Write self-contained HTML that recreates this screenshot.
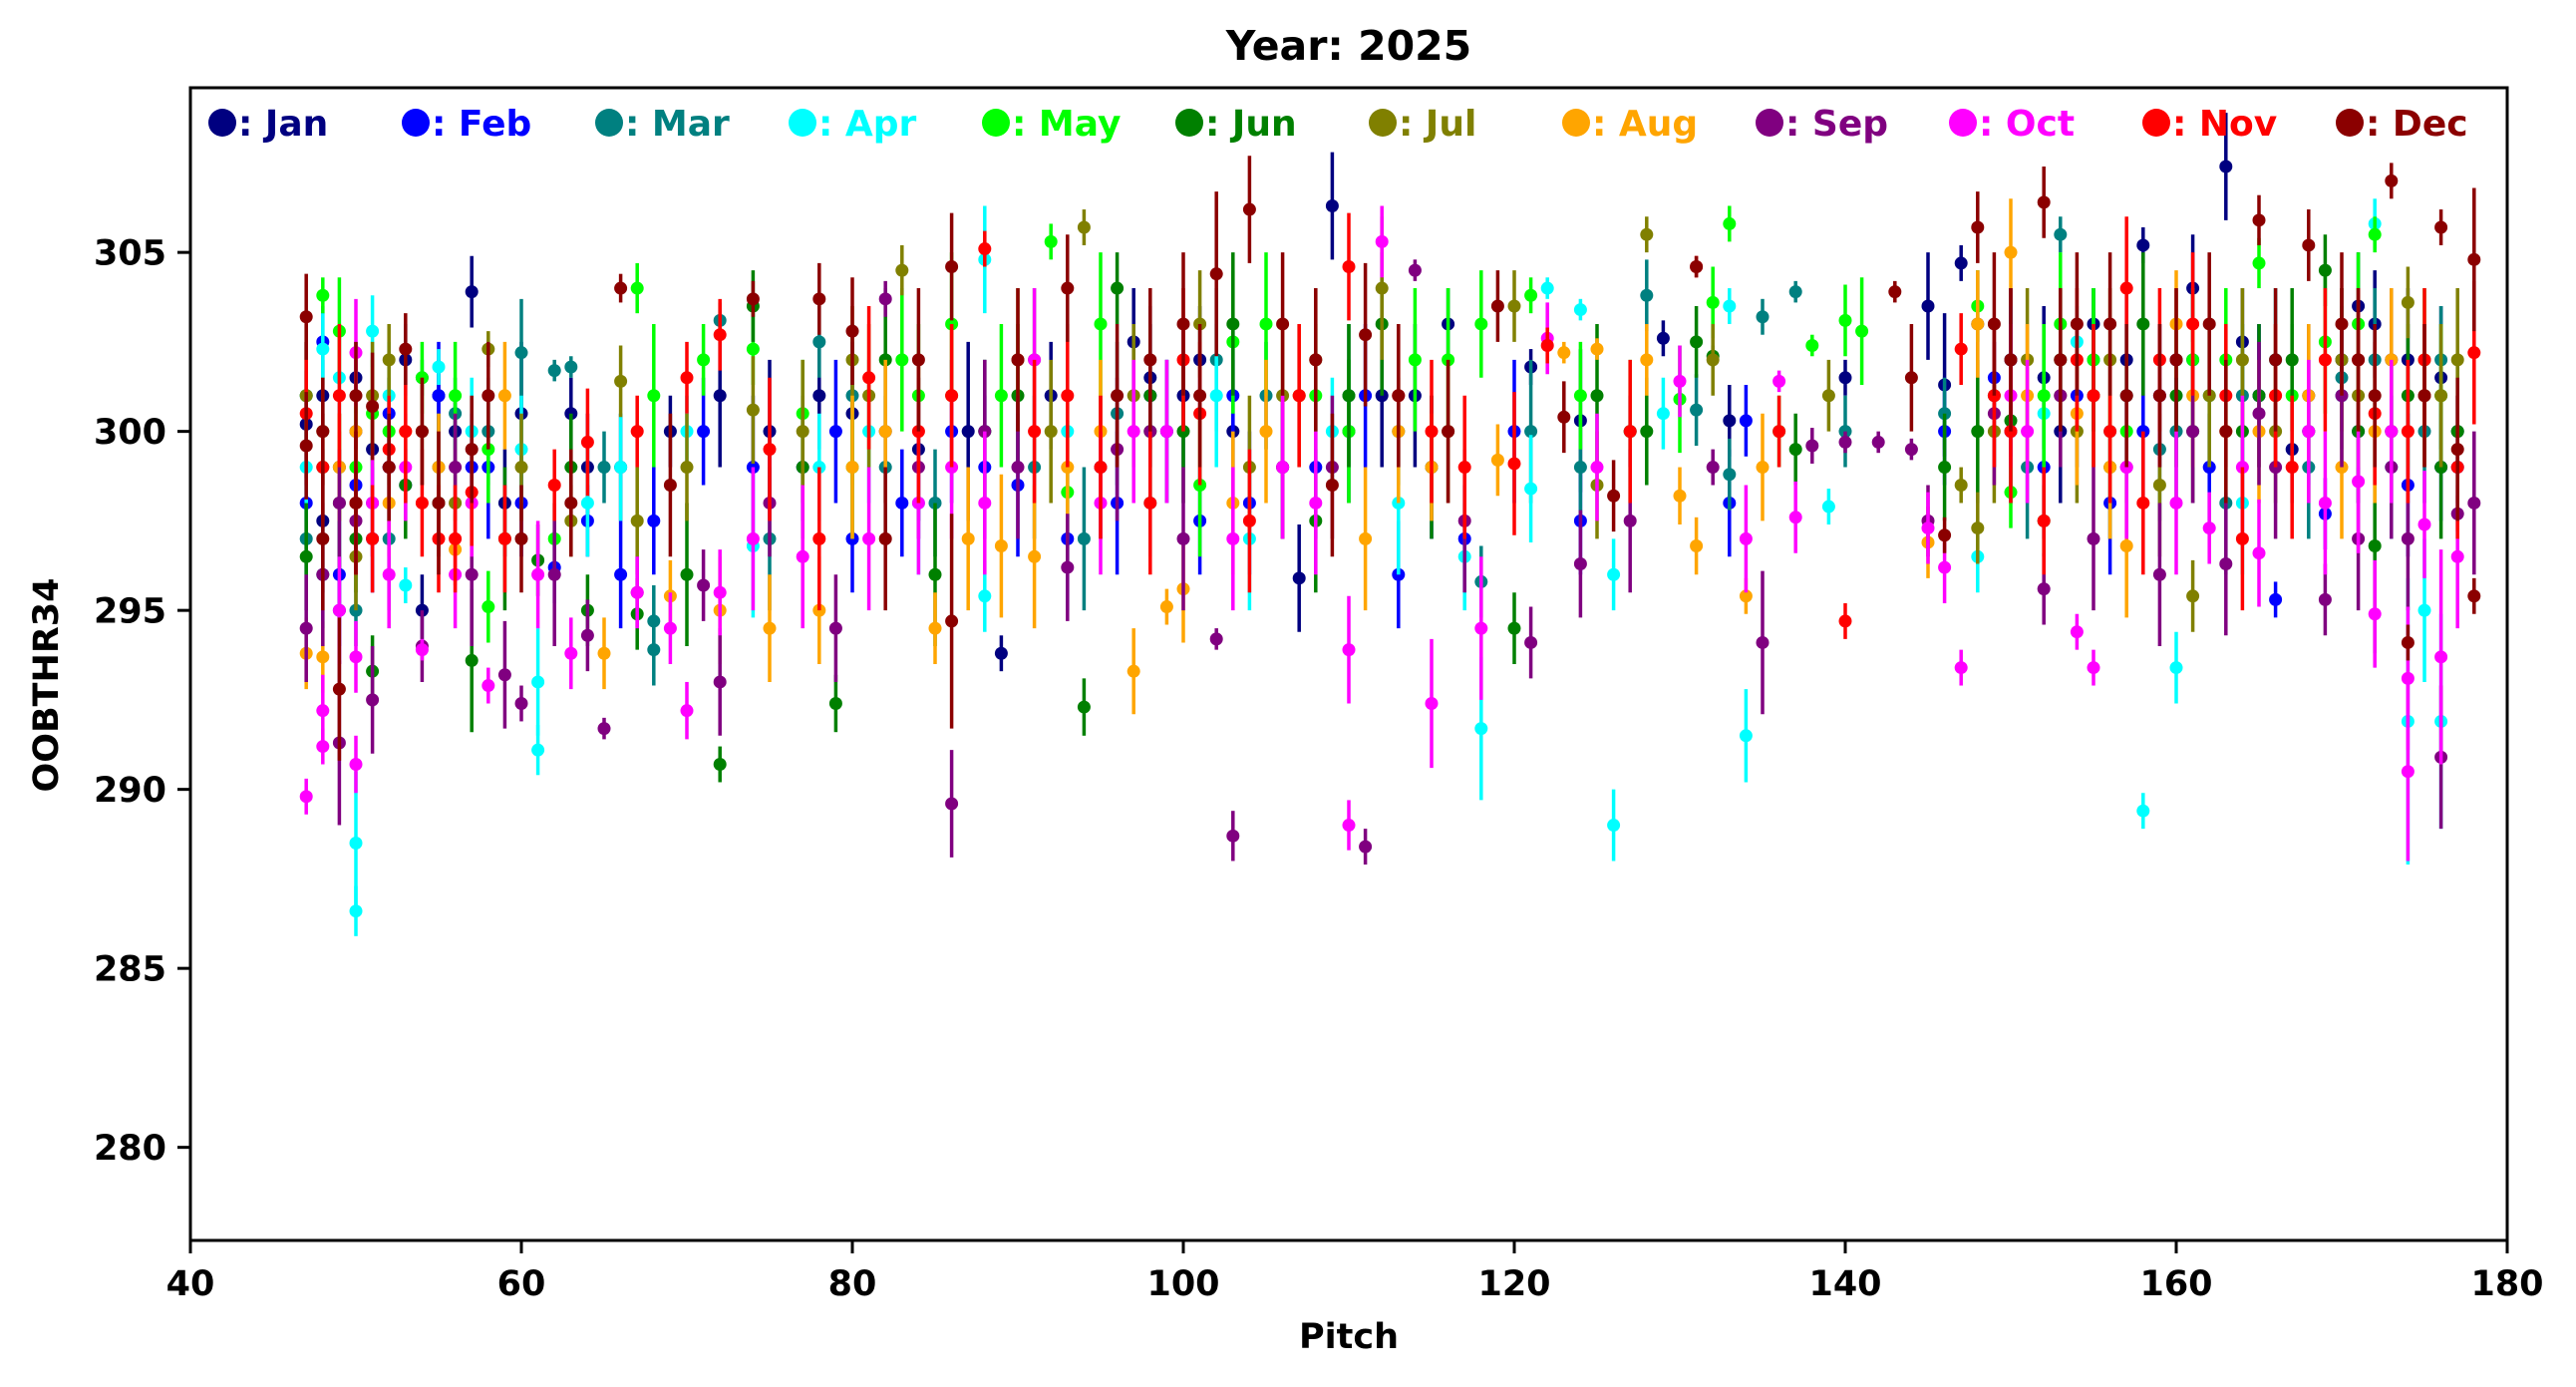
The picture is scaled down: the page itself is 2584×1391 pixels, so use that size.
<!DOCTYPE html>
<html><head><meta charset="utf-8"><title>Year: 2025</title>
<style>
html,body{margin:0;padding:0;background:#fff;}
svg{display:block;font-family:"DejaVu Sans","Liberation Sans",sans-serif;font-weight:bold;}
</style></head>
<body>
<svg id="chart" width="2584" height="1391" viewBox="0 0 2584 1391" xmlns="http://www.w3.org/2000/svg">
<rect x="0" y="0" width="2584" height="1391" fill="#fff"/>
<text x="1353" y="60" font-size="41" text-anchor="middle">Year: 2025</text>
<g id="marks"></g>
<g id="axes"></g>
<g id="legend"></g>
<text x="1353" y="1352" font-size="35" text-anchor="middle">Pitch</text>
<text x="58" y="687" font-size="35" text-anchor="middle" transform="rotate(-90 58 687)">OOBTHR34</text>
</svg>
<script>
const monthNames = ["Jan","Feb","Mar","Apr","May","Jun","Jul","Aug","Sep","Oct","Nov","Dec"];
const monthColors = ["#000080","#0000ff","#008080","#00ffff","#00ff00","#008000","#808000","#ffa500","#800080","#ff00ff","#ff0000","#8b0000"];
const xTicks = [40,60,80,100,120,140,160,180];
const yTicks = [280,285,290,295,300,305];
// [pitch, value, error]
const jan = [[47,300.2,1.5],[48,297.5,2],[49,295,1.5],[50,301.5,1],[52,299,2],[53,302,1],[54,295,1],[55,301,1],[57,303.9,1],[59,298,1.5],[60,300.5,2],[63,300.5,1],[66,299,1.5],[69,300,1],[72,301,2],[75,300,2],[78,301,1.5],[82,300,2],[84,299.5,2],[87,300,2.5],[89,293.8,0.5],[92,301,1.5],[95,299,2],[97,302.5,1.5],[100,301,2],[103,300,2],[106,299,2],[107,295.9,1.5],[109,306.3,1.5],[112,301,2],[116,303,1],[121,301.8,0.5],[124,300.3,2],[129,302.6,0.5],[133,300.3,1],[140,301.5,0.5],[145,303.5,1.5],[146,301.3,2],[147,304.7,0.5],[150,302,2],[153,300,2],[155,303,1],[158,305.2,0.5],[160,302,2],[163,307.4,1.5],[165,301,2],[167,299.5,1.5],[170,302,2],[172,303,1.5],[175,301,2],[177,300,1],
 [48,301,1],[51,299.5,1.5],[56,300,1],[64,299,1.5],[80,300.5,2],[98,301.5,2],[101,302,1.5],[110,300,2],[114,301,2],[148,303,1.5],[152,301.5,2],[157,302,2],[161,304,1.5],[164,302.5,1.5],[168,301,2],[171,303.5,1.5],[174,302,2],[176,301.5,2]];
const feb = [[47,298,2],[48,302.5,1],[49,296,2],[50,300,2],[51,297,1.5],[53,298.5,1],[55,301,1.5],[58,299,2],[62,296.2,1],[64,297.5,1],[66,296,1.5],[68,297.5,1.5],[71,300,1.5],[74,299,2],[77,299,1.5],[80,297,1.5],[83,298,1.5],[86,300,2],[90,298.5,2],[93,297,2],[96,298,2],[98,301,2],[101,297.5,1.5],[104,298,2],[108,299,2],[111,301,2],[113,296,1.5],[117,297,1.5],[120,300,2],[124,297.5,1.5],[127,300,1],[133,298,1.5],[134,300.3,1],[146,300,1.5],[149,301.5,1],[152,299,2],[156,298,2],[159,301,2],[162,299,1.5],[166,295.3,0.5],[169,297.7,1],[171,300,2],[174,298.5,2],[176,299,1.5],
 [47,301,1.5],[50,298.5,1.5],[52,300.5,1],[57,299,1.5],[60,298,1.5],[79,300,2],[88,299,2],[99,300,2],[103,301,2],[115,299,2],[150,300,2],[154,301,2],[158,300,2],[161,302,2],[165,301,2],[168,300,2],[173,302,2],[177,299,2]];
const mar = [[47,297,2],[48,296,1.5],[50,295,1],[52,297,2],[54,301.5,0.5],[56,300.5,1],[60,302.2,1.5],[62,301.7,0.3],[63,301.8,0.3],[65,299,1],[68,294.7,1],[68,293.9,1],[72,303.1,0.5],[75,297,2],[78,302.5,1],[82,299,2],[85,298,1.5],[88,300,2],[91,299,2],[94,297,2],[99,300,2],[102,302,2],[105,301,1.5],[110,301,2],[113,300,1.5],[118,295.8,1],[121,300,2],[124,299,1.5],[128,303.8,1],[131,300.6,1],[133,298.8,1],[135,303.2,0.5],[137,303.9,0.3],[140,300,1],[146,300.5,1],[153,305.5,0.5],[157,301,2],[160,300,2],[163,298,2],[166,302,2],[170,301.5,2],[173,300,2],[176,302,1.5],
 [49,299,1.5],[51,298,1.5],[55,299,1.5],[58,300,1.5],[80,301,2],[96,300.5,2],[107,301,2],[149,301,2],[151,299,2],[155,302,2],[159,299.5,2],[164,301,2],[168,299,2],[172,302,2],[175,300,2]];
const apr = [[48,302.3,1],[49,301.5,1.5],[50,288.5,2],[50,286.6,0.7],[51,302.8,1],[53,295.7,0.5],[55,301.8,0.5],[60,299.5,1.5],[61,291.1,0.7],[61,293,1.5],[64,298,1.5],[70,300,1],[74,296.8,2],[78,299,1.5],[84,298,2],[88,295.4,1],[88,304.8,1.5],[93,300,2],[98,298,1.5],[104,297,2],[109,300,1.5],[113,298,2],[117,296.5,1.5],[118,291.7,2],[121,298.4,1.5],[122,304,0.3],[124,303.4,0.3],[126,296,1],[126,289,1],[129,300.5,1],[133,303.5,0.5],[134,291.5,1.3],[139,297.9,0.5],[148,296.5,1],[152,300.5,1.5],[154,302.5,1],[158,289.4,0.5],[160,293.4,1],[164,298,2],[168,300,1.5],[172,305.8,0.7],[174,291.9,4],[175,295,2],[176,291.9,3],
 [47,299,1.5],[52,301,1.5],[57,300,1.5],[66,299,1.5],[81,300,2],[102,301,2],[150,302,2],[156,300,2],[162,301,2],[166,302,2],[170,301,2],[173,299,2]];
const may = [[48,303.8,0.5],[49,302.8,1.5],[50,299,2],[52,300,1.5],[54,301.5,1],[58,295.1,1],[58,299.5,1.5],[62,297,1],[67,304,0.7],[68,301,2],[71,302,1],[74,302.3,1],[77,300.5,1.5],[80,299,2],[83,302,2],[86,303,2],[89,301,2],[92,305.3,0.5],[93,298.3,2],[95,303,2],[98,300,2],[101,298.5,2],[105,303,2],[110,300,2],[114,302,2],[118,303,1.5],[121,303.8,0.5],[124,301,1.5],[127,300,2],[130,300.9,1.5],[132,303.6,1],[133,305.8,0.5],[136,300,1],[138,302.4,0.3],[140,303.1,1],[141,302.8,1.5],[148,303.5,1],[150,298.3,1],[153,303,2],[157,300,2],[161,302,2],[165,304.7,0.7],[169,302.5,2],[172,305.5,0.5],[175,302,2],
 [47,301,1.5],[51,300.5,1.5],[56,301,1.5],[84,301,2],[91,302,2],[103,302.5,2],[108,301,2],[116,302,2],[152,301,2],[155,302,2],[159,301,2],[163,302,2],[167,301,2],[171,303,2],[176,301,2]];
const jun = [[47,296.5,1.5],[49,298,2],[51,293.3,1],[53,298.5,1.5],[57,293.6,2],[59,297,2],[61,296.4,1],[64,295,1],[67,294.9,1],[70,296,2],[72,290.7,0.5],[74,303.5,1],[77,299,2],[79,292.4,0.8],[82,302,2],[85,296,2],[90,301,2],[94,292.3,0.8],[96,304,1],[100,300,2],[103,303,2],[106,299,2],[108,297.5,2],[112,303,2],[115,299,2],[120,294.5,1],[125,301,2],[128,300,1.5],[131,302.5,1],[132,302.1,0.3],[137,299.5,1],[146,299,1.5],[150,300.3,1],[152,297.5,1],[155,301,2],[158,303,2],[161,300,2],[165,301,2],[169,304.5,1],[172,296.8,3],[176,299,2],
 [48,299,1.5],[50,297,1.5],[55,298,1.5],[63,299,1.5],[88,300,2],[98,301,2],[110,301,2],[148,300,2],[153,302,2],[156,299,2],[160,301,2],[164,300,2],[167,302,2],[171,300,2],[174,301,2],[177,300,2]];
const jul = [[47,301,2],[49,299,1.5],[50,296.5,1.5],[52,302,1],[56,298,1.5],[58,302.3,0.5],[63,297.5,1],[66,301.4,1],[67,297.5,1.5],[70,299,1.5],[74,300.6,1.5],[77,300,2],[80,302,1.5],[83,304.5,0.7],[86,301,2],[90,302,2],[94,305.7,0.5],[97,301,2],[101,303,1.5],[104,299,2],[108,302,2],[112,304,2],[116,300,2],[120,303.5,1],[125,298.5,1.5],[128,305.5,0.5],[132,302,1],[139,301,1],[147,298.5,0.5],[148,297.3,1],[151,302,2],[154,300,2],[159,298.5,2],[161,295.4,1],[164,302,2],[168,300,2],[171,301,2],[174,303.6,1],[177,302,2],
 [48,300,1.5],[51,301,1.5],[54,300,1.5],[60,299,1.5],[81,301,2],[92,300,2],[106,301,2],[149,300,2],[153,301,2],[156,302,2],[162,301,2],[166,300,2],[170,302,2],[173,300,2],[176,301,2]];
const aug = [[47,293.8,1],[48,293.7,1],[50,300,2],[53,300,1],[56,296.7,1],[59,301,1.5],[65,293.8,1],[69,295.4,1],[72,295,1.5],[75,294.5,1.5],[78,295,1.5],[82,300,2],[85,294.5,1],[87,297,2],[89,296.8,2],[91,296.5,2],[95,300,2],[97,293.3,1.2],[99,295.1,0.5],[100,295.6,1.5],[103,298,2],[107,301,2],[111,297,2],[115,299,1.5],[119,299.2,1],[123,302.2,0.3],[125,302.3,0.3],[128,302,1],[130,298.2,0.8],[131,296.8,0.8],[134,295.4,0.5],[135,299,1.5],[145,296.9,1],[148,303,1.5],[150,305,1.5],[154,300.5,2],[157,296.8,2],[160,303,1.5],[163,300,2],[166,301,2],[170,299,2],[173,302,2],
 [49,299,1.5],[52,298,1.5],[55,299,1.5],[80,299,2],[93,299,2],[105,300,2],[113,300,2],[151,301,2],[156,299,2],[161,301,2],[165,300,2],[168,301,2],[172,300,2],[175,301,2]];
const sep = [[47,294.5,1.5],[48,296,2],[49,291.3,2.3],[50,297.5,1.5],[51,292.5,1.5],[54,294,1],[57,296,2],[59,293.2,1.5],[60,292.4,0.5],[62,296,2],[64,294.3,1],[65,291.7,0.3],[67,295.5,1],[71,295.7,1],[72,293,1.5],[75,298,1.5],[79,294.5,1.5],[82,303.7,0.5],[84,299,2],[86,289.6,1.5],[90,299,2],[93,296.2,1.5],[96,299.5,2],[100,297,2],[102,294.2,0.3],[103,288.7,0.7],[106,299,2],[111,288.4,0.5],[114,304.5,0.3],[117,297.5,2],[121,294.1,1],[124,296.3,1.5],[127,297.5,2],[132,299,0.5],[135,294.1,2],[138,299.6,0.5],[140,299.7,0.3],[142,299.7,0.3],[144,299.5,0.3],[145,297.5,1],[149,300.5,2],[152,295.6,1],[155,297,2],[159,296,2],[163,296.3,2],[165,300.5,2],[169,295.3,1],[171,297,2],[174,297,2],[176,290.9,2],[177,297.7,0.5],
 [49,298,1.5],[52,299,1.5],[56,299,1.5],[88,300,2],[98,300,2],[109,299,2],[150,302,2],[153,301,2],[157,299,2],[161,300,2],[166,299,2],[170,301,2],[173,299,2],[178,298,2]];
const oct = [[47,289.8,0.5],[48,292.2,1],[48,291.2,0.5],[49,295,1.5],[50,290.7,0.8],[50,293.7,1],[50,302.2,1.5],[52,296,1.5],[54,293.9,0.3],[56,296,1.5],[58,292.9,0.5],[61,296,1.5],[63,293.8,1],[67,295.5,1],[69,294.5,1],[70,292.2,0.8],[72,295.5,1.2],[74,297,2],[77,296.5,2],[81,297,2],[84,298,2],[88,298,2],[91,302,2],[95,298,2],[99,300,2],[103,297,2],[108,298,2],[110,289,0.7],[110,293.9,1.5],[112,305.3,1],[115,292.4,1.8],[118,294.5,2],[122,302.6,1],[125,299,1.5],[130,301.4,1],[134,297,1.5],[136,301.4,0.3],[137,297.6,1],[145,297.3,1],[146,296.2,1],[147,293.4,0.5],[150,301,2],[154,294.4,0.5],[155,293.4,0.5],[159,301,2],[162,297.3,1],[165,296.6,1.5],[168,300,2],[171,298.6,2],[172,294.9,1.5],[174,290.5,2.5],[174,293.1,2],[175,297.4,1.5],[176,293.7,3],[177,296.5,2],
 [51,298,1.5],[53,299,1.5],[57,298,1.5],[86,299,2],[97,300,2],[106,299,2],[151,300,2],[157,299,2],[160,298,2],[164,299,2],[169,298,2],[173,300,2]];
const nov = [[47,300.5,2],[49,301,2],[50,298,2],[51,297,1.5],[53,300,2],[55,297,1.5],[57,298.3,1.5],[59,297,1.5],[62,298.5,1],[64,299.7,1.5],[67,300,1],[70,301.5,1],[72,302.7,1],[75,299.5,2],[78,297,2],[81,301.5,2],[84,300,2],[88,305.1,0.5],[91,300,2],[95,299,2],[98,298,2],[101,300.5,2],[104,297.5,2],[107,301,2],[110,304.6,1.5],[113,301,2],[117,299,2],[120,299.1,2],[122,302.4,0.5],[127,300,2],[131,304.6,0.3],[136,300,1],[140,294.7,0.5],[147,302.3,1],[150,300,2],[152,297.5,1.5],[155,301,2],[157,304,2],[158,298,2],[161,303,2],[164,297,2],[166,301,2],[169,302,2],[172,300.5,2],[175,302,2],[178,302.2,2],
 [48,299,1.5],[52,299.5,1.5],[54,298,1.5],[56,297,1.5],[86,301,2],[93,301,2],[100,302,2],[115,300,2],[149,301,2],[154,302,2],[156,300,2],[159,302,2],[163,301,2],[167,299,2],[171,302,2],[174,300,2],[177,299,2]];
const dec = [[47,303.2,1.2],[47,299.6,1.5],[48,297,2],[49,292.8,2],[50,298,2],[51,300.7,1.5],[53,302.3,1],[55,298,2],[57,299.5,1.5],[60,297,1.5],[63,298,1.5],[66,304,0.4],[69,298.5,2],[74,303.7,0.5],[78,303.7,1],[80,302.8,1.5],[82,297,2],[86,304.6,1.5],[86,294.7,3],[90,302,2],[93,304,1.5],[96,301,2],[100,303,2],[102,304.4,2.3],[104,306.2,1.5],[106,303,2],[109,298.5,2],[111,302.7,2],[113,301,2],[116,300,2],[119,303.5,1],[123,300.4,1],[126,298.2,1],[131,304.6,0.3],[143,303.9,0.3],[144,301.5,1.5],[146,297.1,0.5],[148,305.7,1],[150,302,2],[152,306.4,1],[154,303,2],[157,301,2],[160,302,2],[163,300,2],[165,305.9,0.7],[168,305.2,1],[171,302,2],[173,307,0.5],[174,294.1,0.5],[175,301,2],[176,305.7,0.5],[177,299.5,2],[178,295.4,0.5],[178,304.8,2],
 [48,300,1.5],[50,301,1.5],[52,299,1.5],[54,300,1.5],[58,301,1.5],[84,302,2],[98,302,2],[101,301,2],[108,302,2],[149,303,2],[153,302,2],[156,303,2],[159,301,2],[162,303,2],[166,302,2],[170,303,2],[172,301,2]];
const monthSeries = [jan,feb,mar,apr,may,jun,jul,aug,sep,oct,nov,dec];

const NS = "http://www.w3.org/2000/svg";
const L = 191, R = 2515, T = 88, B = 1244;
const X0 = 40, X1 = 180;
const Y0 = 277.4, Y1 = 309.6;
function xs(v){ return L + (v - X0) / (X1 - X0) * (R - L); }
function ys(v){ return B - (v - Y0) / (Y1 - Y0) * (B - T); }
function mk(tag, attrs, parent){
  const e = document.createElementNS(NS, tag);
  for (const k in attrs) e.setAttribute(k, attrs[k]);
  parent.appendChild(e);
  return e;
}
const marks = document.getElementById("marks");
const axes = document.getElementById("axes");
const legend = document.getElementById("legend");

monthSeries.forEach((series, mi) => {
  const g = mk("g", {}, marks);
  
  
  series.forEach(p => {
    const cx = xs(p[0]), cy = ys(p[1]);
    const bar = mk("line", {x1: cx, x2: cx, y1: ys(p[1] + p[2]), y2: ys(p[1] - p[2]), stroke: monthColors[mi], "stroke-width": 3.5}, g);
    
    
    const pt = mk("circle", {cx: cx, cy: cy, r: 6.5, fill: monthColors[mi]}, g);
    
    
  });
});

const frame = mk("rect", {x: L, y: T, width: R - L, height: B - T, fill: "none", stroke: "#000", "stroke-width": 3}, axes);



xTicks.forEach(v => {
  const x = xs(v);
  const t = mk("line", {x1: x, x2: x, y1: B, y2: B + 13, stroke: "#000", "stroke-width": 3}, axes);
  
  
  const lb = mk("text", {x: x, y: B + 55, "font-size": 35, "text-anchor": "middle"}, axes);
  lb.textContent = String(v);
  
  
});
yTicks.forEach(v => {
  const y = ys(v);
  const t = mk("line", {x1: L - 13, x2: L, y1: y, y2: y, stroke: "#000", "stroke-width": 3}, axes);
  
  
  const lb = mk("text", {x: L - 24, y: y + 12.5, "font-size": 35, "text-anchor": "end"}, axes);
  lb.textContent = String(v);
  
  
});

monthNames.forEach((m, i) => {
  const cx = 223 + i * 194;
  const g = mk("g", {}, legend);
  
  
  mk("ellipse", {cx: cx, cy: 123, rx: 14, ry: 14, fill: monthColors[i]}, g);
  const tx = mk("text", {x: cx + 16, y: 136, "font-size": 36, fill: monthColors[i]}, g);
  tx.textContent = ": " + m;
});
</script>
</body></html>
